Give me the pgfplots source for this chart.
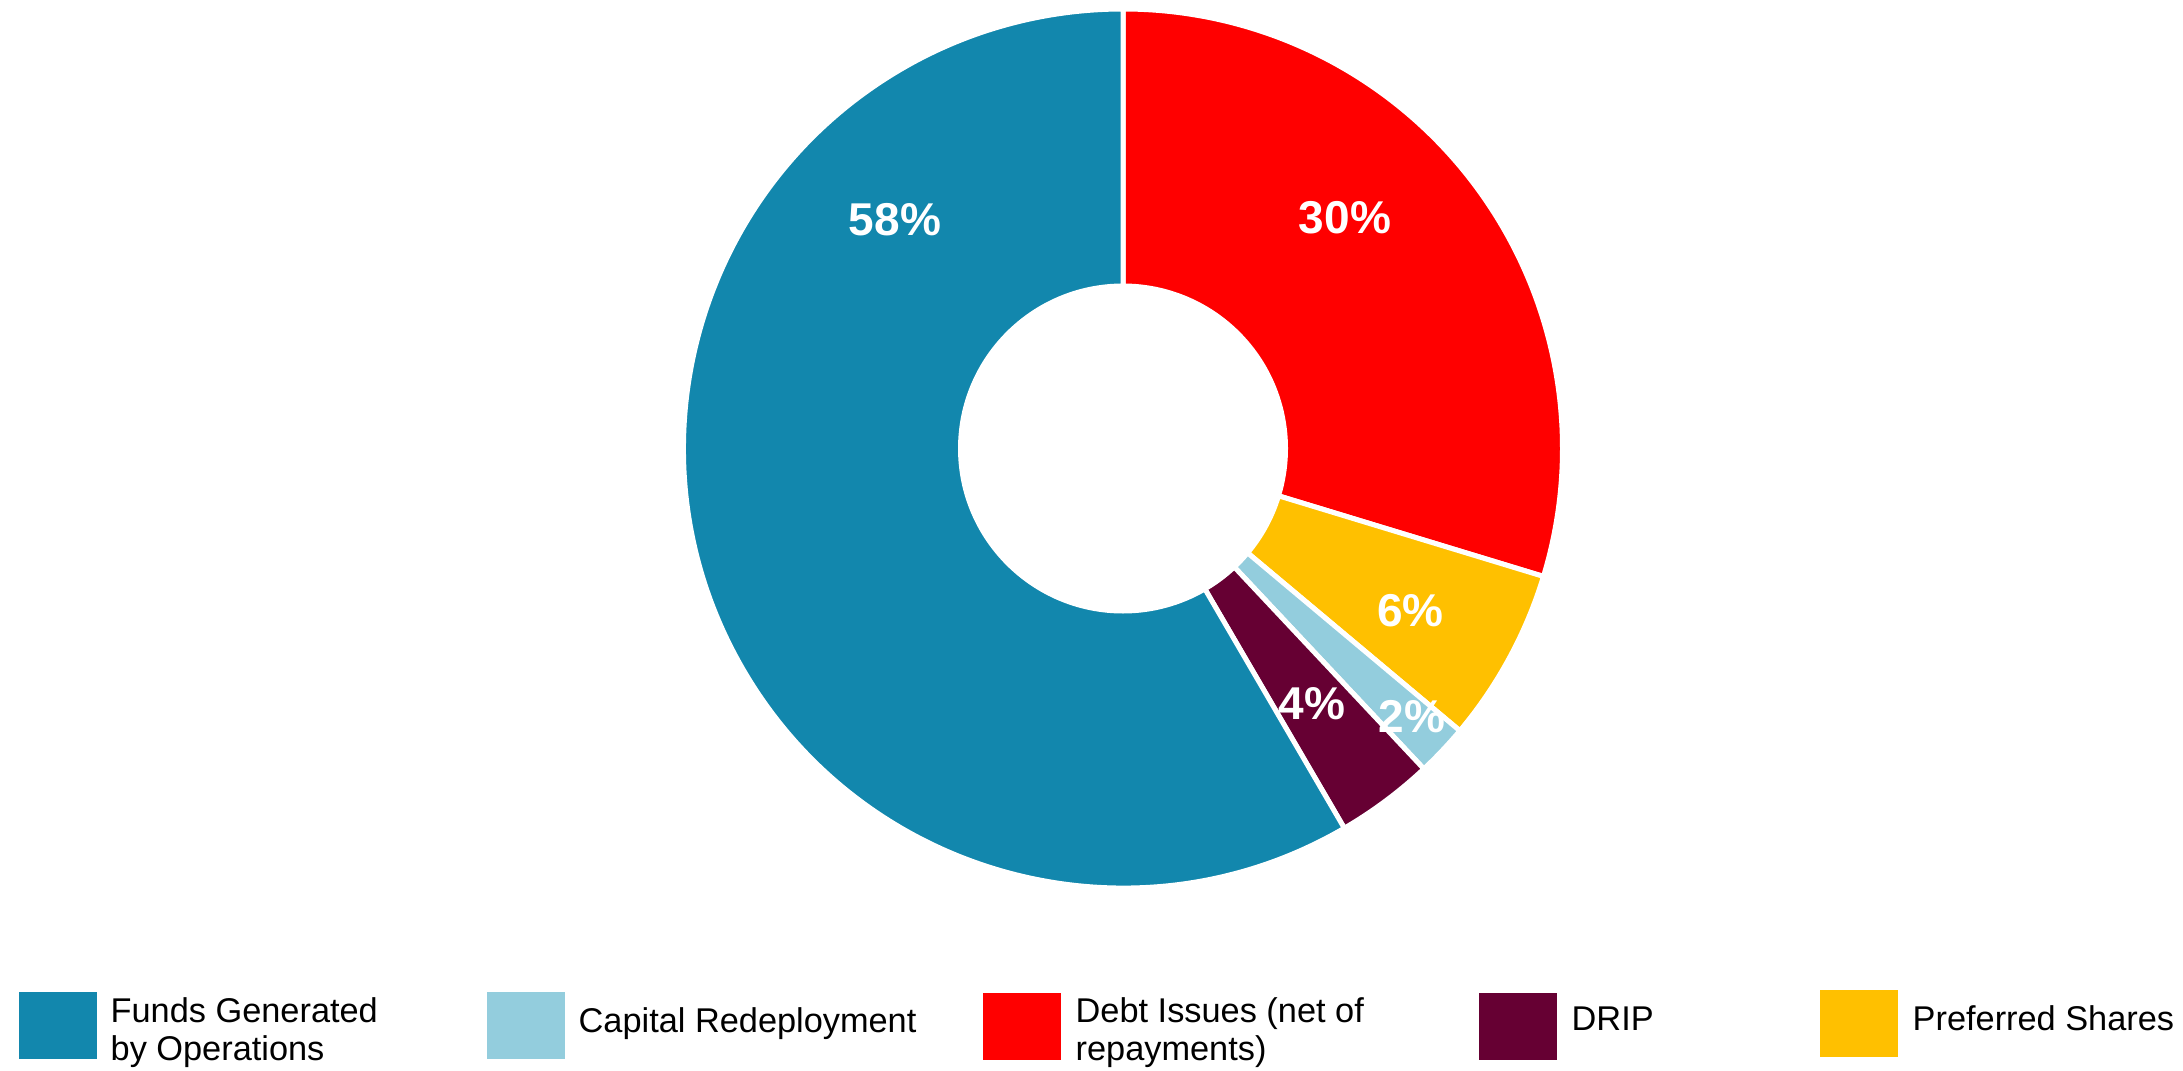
\documentclass[border=0pt]{standalone}
\usepackage{pgfplots}
\pgfplotsset{compat=1.18}
\usepackage{pgfplotstable}
\usepackage{fontspec}
\setmainfont{Liberation Sans}

\definecolor{fundsc}{HTML}{1287AD}
\definecolor{capc}{HTML}{93CDDD}
\definecolor{debtc}{HTML}{FF0000}
\definecolor{dripc}{HTML}{660033}
\definecolor{prefc}{HTML}{FFC000}

% shares in percent, clockwise from 12 o'clock; label position in pixels
\pgfplotstableread{
name  value col    lab lx     ly
Debt  29.7  debtc  30  1345   218
Pref  6.4   prefc  6   1410.5 610.5
Cap   1.9   capc   2   1412   717
DRIP  3.6   dripc  4   1312   704
Funds 58.4  fundsc 58  895    220
}\sharesdata

\tikzset{
  pielab/.style={font=\fontsize{13.8}{16}\selectfont\bfseries, text=white, inner sep=0pt, anchor=center},
  legtxt/.style={font=\fontsize{10.3}{10.8}\selectfont, text=black, inner sep=0pt, anchor=base west, align=left},
}

\begin{document}
\begin{tikzpicture}
\begin{axis}[
  x=0.3pt, y=0.3pt,
  xmin=0, xmax=2183, ymin=0, ymax=1070,
  y dir=reverse,
  hide axis, clip=false, scale only axis,
]
\path (axis cs:0,0) rectangle (axis cs:2183,1070);
\def\mycur{90}
\pgfplotsforeachungrouped \i in {0,...,4}{%
  \pgfplotstablegetelem{\i}{value}\of\sharesdata \let\myval\pgfplotsretval
  \pgfplotstablegetelem{\i}{col}\of\sharesdata \let\mycol\pgfplotsretval
  \pgfmathsetmacro{\mynext}{\mycur-\myval*3.6}%
  \edef\mycmd{\noexpand\filldraw[fill=\mycol, draw=white, line width=1.5pt, line join=miter]
    (axis cs:1123,448.5) ++(\mycur:131.85pt)
    arc[start angle=\mycur, end angle=\mynext, radius=131.85pt]
    -- ++(\mynext:-83.1pt)
    arc[start angle=\mynext, end angle=\mycur, radius=48.75pt] -- cycle;}%
  \mycmd
  \let\mycur\mynext
}
\pgfplotsforeachungrouped \i in {0,...,4}{%
  \pgfplotstablegetelem{\i}{lab}\of\sharesdata \let\mylab\pgfplotsretval
  \pgfplotstablegetelem{\i}{lx}\of\sharesdata \let\mylx\pgfplotsretval
  \pgfplotstablegetelem{\i}{ly}\of\sharesdata \let\myly\pgfplotsretval
  \edef\mycmd{\noexpand\node[pielab] at (axis cs:\mylx,\myly) {\mylab\noexpand\%};}%
  \mycmd
}
% legend
\fill[fundsc] (axis cs:19,992) rectangle (axis cs:97,1059);
\node[legtxt] at (axis cs:110,1022) {Funds Generated};
\node[legtxt] at (axis cs:110,1060) {by Operations};
\fill[capc] (axis cs:487,992) rectangle (axis cs:565,1059);
\node[legtxt] at (axis cs:578,1032) {Capital Redeployment};
\fill[debtc] (axis cs:983,993) rectangle (axis cs:1061,1060);
\node[legtxt] at (axis cs:1075,1022) {Debt Issues (net of};
\node[legtxt] at (axis cs:1075,1060) {repayments)};
\fill[dripc] (axis cs:1479,993) rectangle (axis cs:1557,1060);
\node[legtxt] at (axis cs:1571,1030) {DRIP};
\fill[prefc] (axis cs:1820,990) rectangle (axis cs:1898,1057);
\node[legtxt] at (axis cs:1912,1030) {Preferred Shares};
\end{axis}
\end{tikzpicture}
\end{document}
